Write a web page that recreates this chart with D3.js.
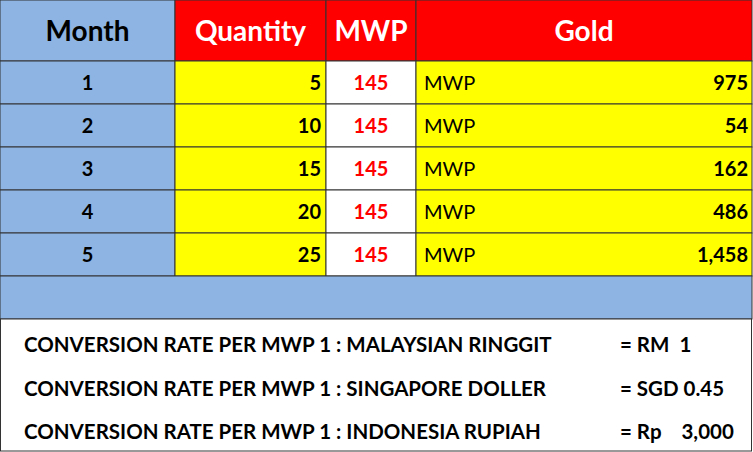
<!DOCTYPE html>
<html><head><meta charset="utf-8">
<script src="https://cdn.jsdelivr.net/npm/d3@7"></script>
<style>body{margin:0;background:#fff}</style>
</head><body><svg id="chart"></svg>
<script>
'use strict';
const months = [1, 2, 3, 4, 5];
const quantities = [5, 10, 15, 20, 25];
const mwpValues = [145, 145, 145, 145, 145];
const goldValues = [975, 54, 162, 486, 1458];
const headers = ['Month', 'Quantity', 'MWP', 'Gold'];
const rates = [
  ['CONVERSION RATE PER MWP 1 : MALAYSIAN RINGGIT', '= RM  1'],
  ['CONVERSION RATE PER MWP 1 : SINGAPORE DOLLER', '= SGD 0.45'],
  ['CONVERSION RATE PER MWP 1 : INDONESIA RUPIAH', '= Rp    3,000']
];

const W = 753, H = 452;
const font = 'Lato, "Open Sans", sans-serif';
const blue = '#8db4e2', red = '#ff0000', yellow = '#ffff00', line = '#333';
const svg = d3.select('#chart').attr('width', W).attr('height', H);

const colEdges = [0, 175, 326, 416, 752];
const colX = i => colEdges[i], colW = i => colEdges[i + 1] - colEdges[i];
const rowTop = r => r === 'h' ? 0 : 61 + (r === 'blank' ? 5 : r - 1) * 43;
const rowH = r => r === 'h' ? 61 : 43;

// header
headers.forEach((h, i) => {
  svg.append('rect').attr('x', colX(i)).attr('y', 0).attr('width', colW(i)).attr('height', 61)
    .attr('fill', i === 0 ? blue : red).attr('stroke', line);
  svg.append('text').attr('x', colX(i) + colW(i) / 2).attr('y', 41).attr('text-anchor', 'middle')
    .attr('font-family', font).attr('font-weight', 'bold').attr('font-size', 28)
    .attr('fill', i === 0 ? '#000' : '#fff').text(h);
});

const fmt = d3.format(',');
months.forEach((m, k) => {
  const ty = rowTop(m), h = rowH(m), ly = ty + h / 2 + 7;
  const fills = [blue, yellow, '#fff', yellow];
  fills.forEach((f, i) => svg.append('rect').attr('x', colX(i)).attr('y', ty)
    .attr('width', colW(i)).attr('height', h).attr('fill', f).attr('stroke', line));
  const t = (xx, anchor, txt, col, weight) => svg.append('text').attr('x', xx).attr('y', ly)
    .attr('text-anchor', anchor).attr('font-family', font).attr('font-weight', weight || 'bold')
    .attr('font-size', 20).attr('fill', col || '#000').text(txt);
  t(colX(0) + colW(0) / 2, 'middle', m);
  t(colX(2) - 5, 'end', quantities[k]);
  t(colX(2) + colW(2) / 2, 'middle', mwpValues[k], red);
  t(colX(3) + 8, 'start', 'MWP', '#000', 'normal');
  t(752 - 4, 'end', fmt(goldValues[k]));
});

svg.append('rect').attr('x', 0).attr('y', rowTop('blank')).attr('width', 752).attr('height', 43)
  .attr('fill', blue).attr('stroke', line);
svg.append('rect').attr('x', 0.5).attr('y', 319).attr('width', 751).attr('height', 132)
  .attr('fill', '#fff').attr('stroke', line);

const ry = d3.scalePoint().domain(d3.range(rates.length)).range([352, 439]);
rates.forEach((r, i) => {
  svg.append('text').attr('x', 24).attr('y', ry(i)).attr('font-family', font).attr('font-weight', 'bold')
    .attr('font-size', 20.5).text(r[0]);
  svg.append('text').attr('x', 620).attr('y', ry(i)).attr('font-family', font).attr('font-weight', 'bold')
    .attr('font-size', 20.5).style('white-space', 'pre').text(r[1]);
});
</script></body></html>
